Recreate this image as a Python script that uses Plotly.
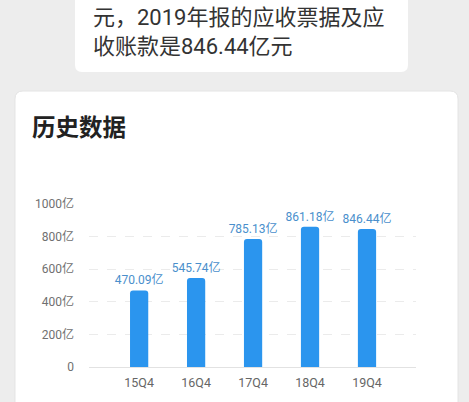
import plotly.graph_objects as go

categories = ["15Q4", "16Q4", "17Q4", "18Q4", "19Q4"]
values = [470.09, 545.74, 785.13, 861.18, 846.44]
value_labels = ["470.09亿", "545.74亿", "785.13亿", "861.18亿", "846.44亿"]
y_ticks = [0, 200, 400, 600, 800, 1000]
y_tick_labels = ["0", "200亿", "400亿", "600亿", "800亿", "1000亿"]

W, H = 469, 402
FONT = "Roboto, 'Noto Sans CJK SC', sans-serif"
CJK = "'Noto Sans CJK SC', Roboto, sans-serif"


def px(x):
    return x / W


def py(y):
    return 1 - y / H


def rrect(x0, y0, x1, y1, r):
    X = lambda v: f"{px(v):.5f}"
    Y = lambda v: f"{py(v):.5f}"
    return (f"M {X(x0 + r)},{Y(y0)} L {X(x1 - r)},{Y(y0)} Q {X(x1)},{Y(y0)} {X(x1)},{Y(y0 + r)} "
            f"L {X(x1)},{Y(y1 - r)} Q {X(x1)},{Y(y1)} {X(x1 - r)},{Y(y1)} "
            f"L {X(x0 + r)},{Y(y1)} Q {X(x0)},{Y(y1)} {X(x0)},{Y(y1 - r)} "
            f"L {X(x0)},{Y(y0 + r)} Q {X(x0)},{Y(y0)} {X(x0 + r)},{Y(y0)} Z")


fig = go.Figure()
fig.add_trace(go.Bar(
    x=categories,
    y=values,
    text=value_labels,
    textposition="outside",
    constraintext="none",
    textfont=dict(family=FONT, size=12, color="#4a8fcc"),
    marker=dict(color="#2b95ee", line=dict(width=0)),
    width=0.32,
    cliponaxis=False,
    hoverinfo="skip",
))

shapes = [
    dict(type="path", xref="paper", yref="paper", path=rrect(75, -20, 408, 72, 7),
         fillcolor="white", line=dict(width=0), layer="below"),
    dict(type="path", xref="paper", yref="paper", path=rrect(15, 91, 458, 430, 8),
         fillcolor="white", line=dict(color="#e4e4e4", width=1), layer="below"),
]

annotations = [
    dict(text="元，2019年报的应收票据及应<br>收账款是846.44亿元", xref="paper", yref="paper",
         x=px(91), y=py(31.5), align="left",
         xanchor="left", yanchor="middle", showarrow=False,
         font=dict(family=FONT, size=22, color="#333333")),
    dict(text="<b>历史数据</b>", xref="paper", yref="paper", x=px(30), y=py(126),
         xanchor="left", yanchor="middle", showarrow=False,
         font=dict(family=CJK, size=23.5, color="#222222")),
]

fig.update_layout(
    width=W, height=H,
    margin=dict(l=0, r=0, t=0, b=0, pad=0, autoexpand=False),
    paper_bgcolor="#ededed",
    plot_bgcolor="rgba(0,0,0,0)",
    showlegend=False,
    shapes=shapes,
    annotations=annotations,
    barcornerradius=3,
    font=dict(family=FONT),
    xaxis=dict(
        domain=[px(89), px(416)],
        range=[-0.88, 4.86],
        showgrid=False, zeroline=False, showline=False,
        ticks="", tickfont=dict(family=FONT, size=12.5, color="#666666"),
        ticklabelstandoff=6,
        fixedrange=True,
    ),
    yaxis=dict(
        domain=[py(367), py(204)],
        range=[0, 1000],
        tickvals=y_ticks, ticktext=y_tick_labels,
        showgrid=True, gridcolor="#ebebeb", griddash="dash", gridwidth=1,
        zeroline=True, zerolinecolor="#e2e2e2", zerolinewidth=1,
        showline=False, ticks="",
        tickfont=dict(family=FONT, size=12, color="#707070"),
        ticklabelstandoff=14,
        fixedrange=True,
    ),
)

fig.write_html("out.html", config={"displayModeBar": False},
               post_script="document.body.style.margin='0';document.body.style.overflow='hidden';")
